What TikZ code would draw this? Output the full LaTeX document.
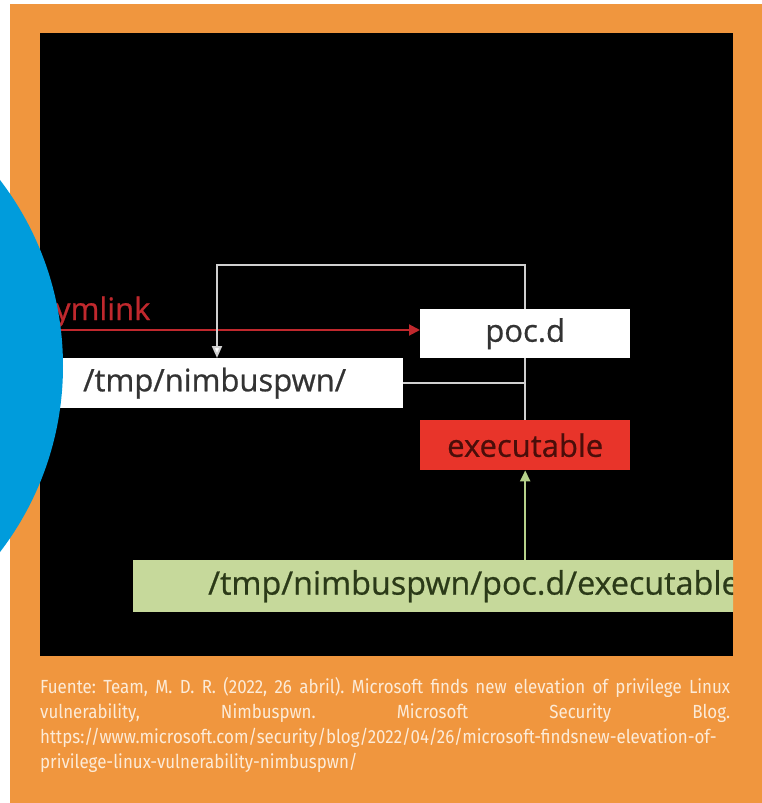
\documentclass[tikz,border=0pt]{standalone}
\usepackage{fontspec}
\setmainfont{Open Sans}
\newfontfamily\diagfont[FakeBold=0.7]{Open Sans}
\newfontfamily\capfont[FakeStretch=0.89]{Fira Sans}
\usetikzlibrary{arrows.meta}
\definecolor{orangebg}{HTML}{F0963E}
\definecolor{bluec}{HTML}{009CDC}
\definecolor{boxtext}{HTML}{333333}
\definecolor{redbox}{HTML}{E8342A}
\definecolor{redtext}{HTML}{4A0E0A}
\definecolor{greenbox}{HTML}{C6D99B}
\definecolor{greentext}{HTML}{2B3A18}
\definecolor{connc}{HTML}{CFCFCF}
\definecolor{redline}{HTML}{C0282D}
\definecolor{greenline}{HTML}{B5D08A}
\definecolor{captext}{HTML}{FCEBD8}
\tikzset{
  box/.style={rectangle, inner ysep=0pt, minimum height=50pt, font=\diagfont\fontsize{31}{34}\selectfont},
  wbox/.style={box, fill=white, text=boxtext},
  conn/.style={draw=connc, line width=2pt},
  cline/.style={anchor=base west, inner sep=0pt, text=captext, font=\capfont\frenchspacing\fontsize{19}{25}\selectfont},
}
\begin{document}
\begin{tikzpicture}[x=1pt,y=-1pt]
\useasboundingbox (0,0) rectangle (762,803);
\fill[white] (0,0) rectangle (762,803);
\fill[orangebg] (10,4) rectangle (762,803);
\fill[black] (40,33) rectangle (733,656);
\begin{scope}
\clip (40,33) rectangle (733,656);
\node[wbox, anchor=north west, inner xsep=38pt, text width=282pt, align=left] (nimb) at (45,358) {/tmp/nimbuspwn/};
\node[wbox, anchor=north west, minimum width=210pt, minimum height=49pt] (poc) at (420,309) {poc.d};
\node[box, fill=redbox, text=redtext, anchor=north west, minimum width=210pt] (exe) at (420,420) {executable};
\node[box, fill=greenbox, text=greentext, anchor=north west, minimum height=52pt, inner xsep=75pt, text width=580pt, align=left, font=\diagfont\fontsize{32.3}{36}\selectfont] (grn) at (133,560) {/tmp/nimbuspwn/poc.d/executable};
\node[anchor=base west, inner sep=0pt, text=redline, font=\diagfont\fontsize{31}{34}\selectfont] (sym) at (40,320) {symlink};
\coordinate (rs) at (45,330);
\draw[draw=redline, line width=2pt, -{Triangle[length=11pt,width=11pt]}] (rs) -- (poc.west |- rs);
\coordinate (tl) at (217,265);
\draw[conn, -{Triangle[length=12pt,width=10pt,fill=white]}] (poc.north) |- (tl) -- (tl |- nimb.north);
\draw[conn] (nimb.east) -- (nimb.east -| poc.south);
\draw[conn] (poc.south) -- (exe.north);
\draw[draw=greenline, line width=2pt, -{Triangle[length=11pt,width=10pt]}] (grn.north -| exe.south) -- (exe.south);
\end{scope}
\fill[bluec] (-243,366) circle[radius=306pt];
\node[cline] (c1) at (40,693) {\hbox to 690pt{Fuente: Team, M. D. R. (2022, 26 abril). Microsoft finds new elevation of privilege Linux}};
\node[cline] (c2) at (40,718) {\hbox to 690pt{vulnerability,\hfill Nimbuspwn.\hfill Microsoft\hfill Security\hfill Blog.}};
\node[cline] (c3) at (40,743) {https://www.microsoft.com/security/blog/2022/04/26/microsoft-findsnew-elevation-of-};
\node[cline] (c4) at (40,768) {privilege-linux-vulnerability-nimbuspwn/};
\end{tikzpicture}
\end{document}
